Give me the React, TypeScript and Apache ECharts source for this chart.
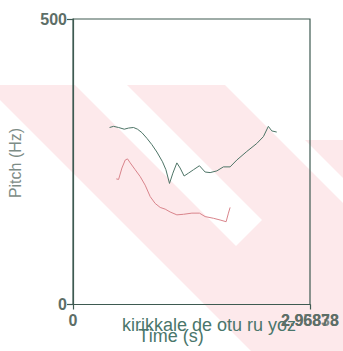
import React, { useEffect, useRef } from "react";
import * as echarts from "echarts";

// Pitch track, upper (green) contour
const greenTime = [0.458, 0.508, 0.571, 0.642, 0.696, 0.758, 0.808, 0.863, 0.926, 0.988, 1.051, 1.121, 1.164, 1.209, 1.251, 1.301, 1.342, 1.392, 1.446, 1.509, 1.584, 1.655, 1.718, 1.802, 1.884, 1.968, 2.052, 2.177, 2.302, 2.385, 2.447, 2.49, 2.552];
const greenPitch = [310, 312, 310, 307, 309, 310, 307, 301, 291, 280, 267, 250, 236, 212, 230, 248, 239, 225, 230, 236, 243, 232, 231, 234, 241, 241, 253, 268, 282, 294, 312, 304, 302];

// Pitch track, lower (red) contour
const redTime = [0.542, 0.571, 0.613, 0.654, 0.683, 0.717, 0.779, 0.842, 0.904, 0.967, 1.029, 1.092, 1.155, 1.217, 1.301, 1.384, 1.489, 1.584, 1.655, 1.759, 1.843, 1.918, 1.947, 1.968];
const redPitch = [220, 219, 239, 253, 255, 248, 236, 224, 209, 189, 177, 170, 167, 162, 157, 158, 160, 160, 154, 151, 148, 145, 160, 170];

const xMin = 0;
const xMax = 2.96878;
const yMin = 0;
const yMax = 500;
const xTickLabels = ["0", "2.96878"];
const xOverlapLabel = "2.95833";
const yTickLabels = ["0", "500"];
const subtitle = "kirikkale de otu ru yoz";
const xTitle = "Time (s)";
const yTitle = "Pitch (Hz)";

const zip = (a: number[], b: number[]) => a.map((v, i) => [v, b[i]]);

export default function App() {
  const ref = useRef<HTMLDivElement>(null);
  useEffect(() => {
    if (!ref.current) return;
    const chart = echarts.init(ref.current, undefined, { renderer: "svg" });
    const font = "'Liberation Sans', Arial, sans-serif";
    const axisCol = "#3e5a51";
    const labelCol = "#5d6e67";
    const titleCol = "#4a766b";
    const pink = "#fde9eb";
    chart.setOption({
      animation: false,
      backgroundColor: "#ffffff",
      grid: {
        left: 73,
        top: 19,
        right: 33,
        bottom: 46.5,
        show: true,
        borderColor: axisCol,
        borderWidth: 1.2,
        backgroundColor: "transparent",
      },
      xAxis: {
        type: "value",
        min: xMin,
        max: xMax,
        interval: xMax,
        splitLine: { show: false },
        axisLine: { show: true, onZero: false, lineStyle: { color: axisCol, width: 1.2 } },
        axisTick: { show: true, length: 5, lineStyle: { color: axisCol, width: 1.2 } },
        axisLabel: {
          margin: 8,
          fontSize: 16,
          fontWeight: "bold",
          fontFamily: font,
          color: labelCol,
          formatter: (v: number) => (v === xMin ? xTickLabels[0] : xTickLabels[1]),
        },
      },
      yAxis: {
        type: "value",
        min: yMin,
        max: yMax,
        interval: yMax,
        splitLine: { show: false },
        axisLine: { show: true, onZero: false, lineStyle: { color: axisCol, width: 1.2 } },
        axisTick: { show: true, length: 6, lineStyle: { color: axisCol, width: 1.2 } },
        axisLabel: {
          margin: 6,
          fontSize: 16,
          fontWeight: "bold",
          fontFamily: font,
          color: labelCol,
          formatter: (v: number) => (v === yMin ? yTickLabels[0] : yTickLabels[1]),
        },
      },
      graphic: {
        elements: [
          {
            type: "polygon",
            z: -10,
            silent: true,
            shape: { points: [[0, 85], [75, 85], [236, 246], [262, 220], [127, 85], [225, 85], [343, 203], [343, 351], [251, 351], [0, 100]] },
            style: { fill: pink },
          },
          {
            type: "polygon",
            z: -10,
            silent: true,
            shape: { points: [[305, 140], [343, 140], [343, 178]] },
            style: { fill: pink },
          },
          {
            type: "text",
            x: 310,
            y: 312,
            style: {
              text: xOverlapLabel,
              align: "center",
              verticalAlign: "top",
              font: `bold 16px ${font}`,
              fill: labelCol,
              opacity: 0.8,
            },
          },
          {
            type: "text",
            x: 122,
            y: 325,
            style: {
              text: subtitle,
              align: "left",
              verticalAlign: "middle",
              font: `18px ${font}`,
              fill: titleCol,
            },
          },
          {
            type: "text",
            x: 171,
            y: 336,
            style: {
              text: xTitle,
              align: "center",
              verticalAlign: "middle",
              font: `18px ${font}`,
              fill: titleCol,
            },
          },
          {
            type: "text",
            x: 15,
            y: 163,
            rotation: Math.PI / 2,
            style: {
              text: yTitle,
              align: "center",
              verticalAlign: "middle",
              font: `16px ${font}`,
              fill: "#7d8c86",
            },
          },
        ],
      },
      series: [
        {
          type: "line",
          data: zip(greenTime, greenPitch),
          showSymbol: false,
          silent: true,
          lineStyle: { color: "#4d7466", width: 1 },
          itemStyle: { color: "#4d7466" },
        },
        {
          type: "line",
          data: zip(redTime, redPitch),
          showSymbol: false,
          silent: true,
          lineStyle: { color: "#d9848b", width: 1 },
          itemStyle: { color: "#d9848b" },
        },
      ],
    });
    return () => chart.dispose();
  }, []);
  return (
    <div
      ref={ref}
      style={{ position: "fixed", left: 0, top: 0, width: 343, height: 351 }}
    />
  );
}
